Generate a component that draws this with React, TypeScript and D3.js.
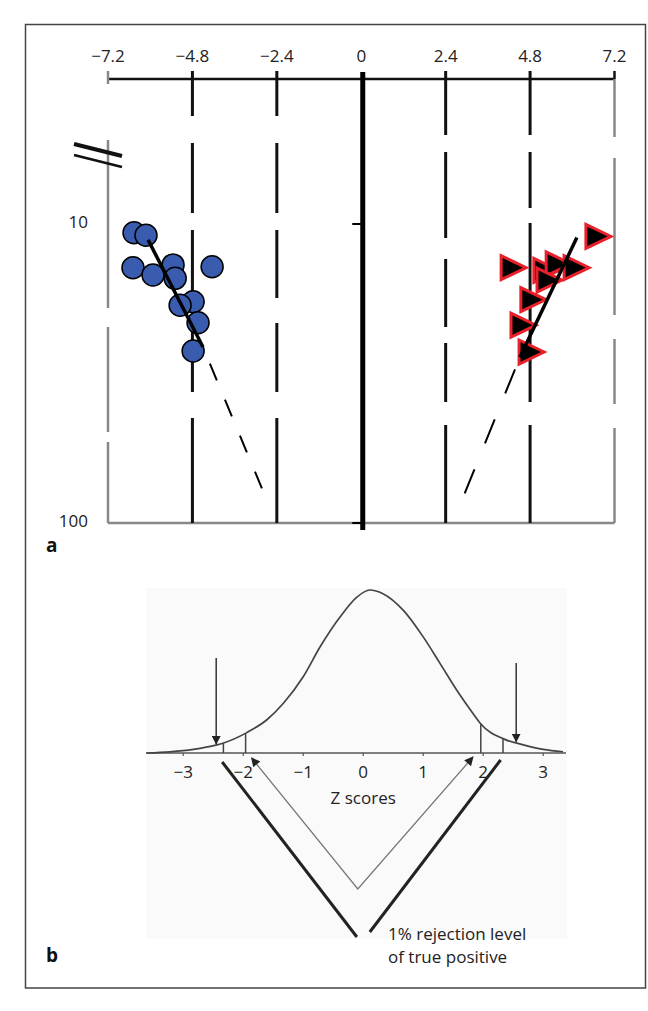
import React from 'react';
import * as d3 from 'd3';

// ---- panel a data ----
const xTicks = [-7.2, -4.8, -2.4, 0, 2.4, 4.8, 7.2];
const xTickLabels = ['\u22127.2', '\u22124.8', '\u22122.4', '0', '2.4', '4.8', '7.2'];
const yTicks = [10, 100];

const blueX = [-6.46, -6.12, -6.49, -5.92, -5.35, -5.29, -4.24, -4.78, -5.15, -4.64, -4.78];
const blueY = [10.7, 10.9, 14.0, 14.8, 13.7, 15.2, 13.9, 18.2, 18.7, 21.4, 26.6];

const redX = [6.70, 4.29, 5.22, 5.57, 6.08, 5.31, 4.85, 4.57, 4.80];
const redY = [11.0, 14.0, 14.3, 13.6, 14.0, 15.4, 17.9, 21.8, 26.8];

// fitted lines: [solid start, solid end / dashed start, dashed end]
const blueFit = [{ x: -6.06, y: 11.3 }, { x: -4.50, y: 25.8 }, { x: -2.65, y: 85.7 }];
const redFit = [{ x: 6.13, y: 11.1 }, { x: 4.51, y: 27.9 }, { x: 2.75, y: 90.5 }];

// vertical guide lines and their dash look
const guides = [
  { x: -4.8, dash: '45 27 70 17 68 25 69 26 110' },
  { x: -2.4, dash: '45 27 70 17 68 25 69 26 110' },
  { x: 2.4, dash: '64 17 86 21 68 16 59 23 100' },
  { x: 4.8, dash: '64 17 56 15 179 23 100' },
];

// ---- panel b data ----
const zTicks = [-3, -2, -1, 0, 1, 2, 3];
const zTickLabels = ['\u22123', '\u22122', '\u22121', '0', '1', '2', '3'];
const curveZ = [-3.61, -3.22, -2.83, -2.44, -2.34, -1.94, -1.61, -1.33, -1.0, -0.72, -0.39, -0.11, 0.11, 0.33, 0.67, 1.0, 1.28, 1.56, 1.83, 1.95, 2.35, 2.67, 3.0, 3.33];
const curveD = [0.0, 0.003, 0.009, 0.02, 0.024, 0.05, 0.081, 0.122, 0.187, 0.26, 0.333, 0.382, 0.4, 0.391, 0.35, 0.285, 0.22, 0.154, 0.097, 0.073, 0.034, 0.02, 0.009, 0.003];
const cutoffs = [-2.33, -1.96, 1.96, 2.33];
const arrowZ = [-2.45, 2.55];
const arrowTop = [0.233, 0.221];
// annotation V shapes: z position and depth (px) below the baseline
const thinV = [{ z: -1.86, depth: 5 }, { z: -0.09, depth: 136 }, { z: 1.83, depth: 4 }];
const thickLeft = [{ z: -2.35, depth: 9 }, { z: -0.105, depth: 184 }];
const thickRight = [{ z: 2.29, depth: 7 }, { z: 0.11, depth: 179 }];

const FONT = "'Open Sans', 'Noto Sans', sans-serif";

export default function App() {
  // panel a scales
  const xA = d3.scaleLinear().domain([-7.2, 7.2]).range([108, 614.5]);
  const yA = d3.scaleLog().domain([10, 100]).range([224, 523]);
  const axisY = 79;
  const bottomY = yA(100);

  const fitLine = d3.line<{ x: number; y: number }>().x(d => xA(d.x)).y(d => yA(d.y));

  // panel b scales
  const zS = d3.scaleLinear().domain([-3.62, 3.38]).range([146, 566]);
  const dS = d3.scaleLinear().domain([0, 0.4]).range([753, 590]);
  const base = dS(0);
  const depth = d3.scaleLinear().domain([0, 1]).range([base, base + 1]);
  const curveAt = (z: number) => {
    const i = d3.bisectLeft(curveZ, z);
    const t = (z - curveZ[i - 1]) / (curveZ[i] - curveZ[i - 1]);
    return curveD[i - 1] + t * (curveD[i] - curveD[i - 1]);
  };
  const bell = d3.line<number>()
    .x((_, i) => zS(curveZ[i]))
    .y(d => dS(d))
    .curve(d3.curveMonotoneX);
  const vLine = d3.line<{ z: number; depth: number }>().x(d => zS(d.z)).y(d => depth(d.depth));

  const tri = 'M-11,-12L-11,12L14,0Z';

  return (
    <svg width={648} height={1011} viewBox="0 0 648 1011"
      style={{ position: 'absolute', left: 0, top: 0, display: 'block' }}
      fontFamily={FONT}>
      <defs>
        <marker id="headDark" viewBox="0 0 10 10" refX="9" refY="5" markerWidth="6" markerHeight="6"
          markerUnits="strokeWidth" orient="auto-start-reverse">
          <path d="M0,0L10,5L0,10Z" fill="#222" />
        </marker>
        <marker id="headGrey" viewBox="0 0 10 10" refX="9" refY="5" markerWidth="8" markerHeight="7"
          markerUnits="strokeWidth" orient="auto-start-reverse">
          <path d="M0,0L10,5L0,10Z" fill="#222" />
        </marker>
      </defs>

      <rect x={0} y={0} width={648} height={1011} fill="#fff" />
      <rect x={25.5} y={24.5} width={620} height={963.5} fill="#fff" stroke="#444" strokeWidth={1.5} />

      {/* ---------- panel a ---------- */}
      {/* top axis */}
      <line x1={xA(-7.2)} x2={xA(7.2)} y1={axisY} y2={axisY} stroke="#111" strokeWidth={2.5} />
      {xTicks.map((t, i) => (
        <text key={t} x={xA(t)} y={62} textAnchor="middle" fontSize={17} fill="#222">{xTickLabels[i]}</text>
      ))}
      {/* left grey axis with break */}
      <line x1={xA(-7.2)} x2={xA(-7.2)} y1={71} y2={84} stroke="#888" strokeWidth={2.5} />
      <line x1={xA(-7.2)} x2={xA(-7.2)} y1={140} y2={bottomY} stroke="#888" strokeWidth={2.5}
        strokeDasharray="168 19 105 10 90" />
      <line x1={xA(-7.2) - 34} y1={144} x2={xA(-7.2) + 14} y2={156} stroke="#111" strokeWidth={4} />
      <line x1={xA(-7.2) - 34} y1={155} x2={xA(-7.2) + 14} y2={167} stroke="#111" strokeWidth={2.6} />
      {/* right grey line */}
      <line x1={xA(7.2)} x2={xA(7.2)} y1={71} y2={axisY} stroke="#111" strokeWidth={2.5} />
      <line x1={xA(7.2)} x2={xA(7.2)} y1={axisY} y2={bottomY} stroke="#888" strokeWidth={2.5}
        strokeDasharray="58 21 157 24 65 24 100" />
      {/* bottom grey line */}
      <line x1={xA(-7.2)} x2={xA(7.2)} y1={bottomY} y2={bottomY} stroke="#888" strokeWidth={2.5} />

      {/* dashed guides */}
      {guides.map(g => (
        <line key={g.x} x1={xA(g.x)} x2={xA(g.x)} y1={71} y2={bottomY} stroke="#111" strokeWidth={3}
          strokeDasharray={g.dash} />
      ))}

      {/* central zero line */}
      <line x1={xA(0) + 1.5} x2={xA(0) + 1.5} y1={72} y2={530} stroke="#000" strokeWidth={5} />
      {yTicks.map(t => (
        <line key={t} x1={xA(0) - 9} x2={xA(0)} y1={yA(t)} y2={yA(t)} stroke="#000" strokeWidth={2} />
      ))}

      {/* y labels */}
      {yTicks.map(t => (
        <text key={t} x={88} y={yA(t) + 4} textAnchor="end" fontSize={17} fill="#222">{t}</text>
      ))}

      {/* blue circles */}
      {blueX.map((x, i) => (
        <circle key={i} cx={xA(x)} cy={yA(blueY[i])} r={11} fill="#3a5caf" stroke="#000" strokeWidth={1.5} />
      ))}
      {/* red triangles */}
      {redX.map((x, i) => (
        <path key={i} d={tri} transform={`translate(${xA(x)},${yA(redY[i])})`} fill="#000"
          stroke="#e8202a" strokeWidth={3} strokeLinejoin="miter" />
      ))}

      {/* fitted lines */}
      <path d={fitLine(blueFit.slice(0, 2)) || ''} stroke="#000" strokeWidth={3.5} fill="none" />
      <path d={fitLine(blueFit.slice(1)) || ''} stroke="#000" strokeWidth={2} fill="none"
        strokeDasharray="18 21" strokeDashoffset={21} />
      <path d={fitLine(redFit.slice(0, 2)) || ''} stroke="#000" strokeWidth={3.5} fill="none" />
      <path d={fitLine(redFit.slice(1)) || ''} stroke="#000" strokeWidth={2} fill="none"
        strokeDasharray="26 28" strokeDashoffset={-13} />

      <text x={46} y={552} fontSize={19} fontWeight="bold" fill="#111">a</text>

      {/* ---------- panel b ---------- */}
      <rect x={146} y={588} width={421} height={351} fill="#fafafa" />
      <line x1={zS(-3.62)} x2={zS(3.38)} y1={base} y2={base} stroke="#555" strokeWidth={1.5} />
      {zTicks.map(t => (
        <line key={t} x1={zS(t)} x2={zS(t)} y1={base} y2={base + 3} stroke="#555" strokeWidth={1.2} />
      ))}
      {zTicks.map((t, i) => (
        <text key={t} x={zS(t)} y={778} textAnchor="middle" fontSize={17} fill="#222">{zTickLabels[i]}</text>
      ))}
      <path d={bell(curveD) || ''} fill="none" stroke="#444" strokeWidth={1.7} />
      {cutoffs.map(c => (
        <line key={c} x1={zS(c)} x2={zS(c)} y1={base} y2={dS(curveAt(c))} stroke="#444" strokeWidth={1.5} />
      ))}
      {arrowZ.map((z, i) => (
        <line key={z} x1={zS(z)} x2={zS(z)} y1={dS(arrowTop[i])} y2={dS(curveAt(z)) - 1}
          stroke="#333" strokeWidth={1.5} markerEnd="url(#headDark)" />
      ))}
      <path d={vLine(thinV) || ''} fill="none" stroke="#777" strokeWidth={1.3}
        markerStart="url(#headGrey)" markerEnd="url(#headGrey)" />
      <path d={vLine(thickLeft) || ''} fill="none" stroke="#222" strokeWidth={3} />
      <path d={vLine(thickRight) || ''} fill="none" stroke="#222" strokeWidth={3} />

      <text x={zS(0)} y={804} textAnchor="middle" fontSize={17} fill="#222">Z scores</text>
      <text x={388} y={940} fontSize={17} fill="#222">1% rejection level</text>
      <text x={388} y={963} fontSize={17} fill="#222">of true positive</text>

      <text x={46} y={962} fontSize={19} fontWeight="bold" fill="#111">b</text>
    </svg>
  );
}
